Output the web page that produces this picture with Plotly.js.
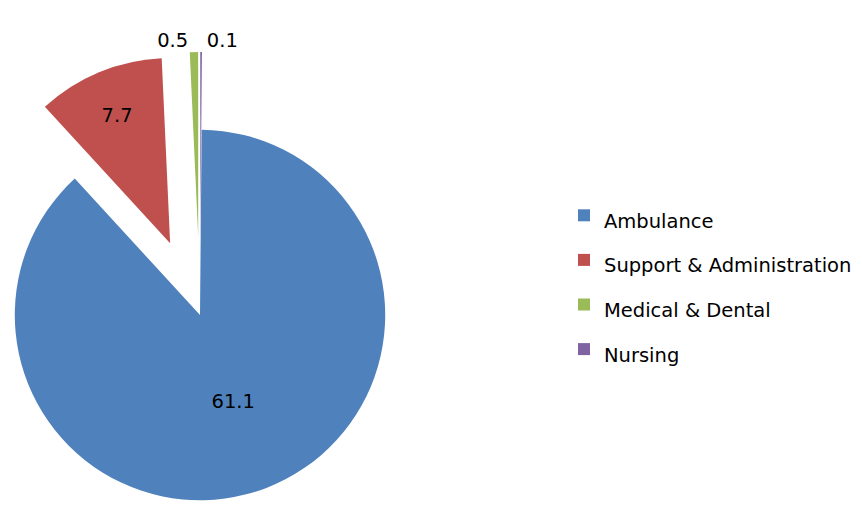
<!DOCTYPE html>
<html>
<head>
<meta charset="utf-8">
<script src="https://cdn.plot.ly/plotly-3.0.1.min.js"></script>
<style>
html, body { margin: 0; padding: 0; width: 862px; height: 512px; overflow: hidden; background: #fff; }
#chart { position: absolute; left: -63px; top: 0px; width: 925px; height: 630px; }
</style>
</head>
<body>
<div id="chart"></div>
<script>
// Data
const categories = ["Ambulance", "Support & Administration", "Medical & Dental", "Nursing"];
const values = [61.1, 7.7, 0.5, 0.1];
const sliceColors = ["#4F81BD", "#C0504D", "#9BBB59", "#8064A2"];
const pulls = [0, 0.42, 0.42, 0.42];
const textPositions = ["inside", "inside", "outside", "outside"];

const FONT = "DejaVu Sans, sans-serif";
const legendLabels = categories.map(c => '<span style="font-size:19.5px">' + c + '</span>');

const trace = {
  type: "pie",
  labels: legendLabels,
  values: values,
  sort: false,
  direction: "clockwise",
  rotation: 0.5,
  pull: pulls,
  marker: { colors: sliceColors, line: { width: 0 } },
  textinfo: "value",
  textposition: textPositions,
  insidetextorientation: "horizontal",
  textfont: { family: FONT, size: 19.5, color: "#000" },
  insidetextfont: { family: FONT, size: 19.5, color: "#000" },
  outsidetextfont: { family: FONT, size: 19.5, color: "#000" },
  domain: { x: [0, 526 / 925], y: [52 / 630, 578 / 630] },
  hoverinfo: "label+value"
};

const layout = {
  width: 925,
  height: 630,
  margin: { l: 0, r: 0, t: 0, b: 0 },
  paper_bgcolor: "#fff",
  showlegend: true,
  legend: {
    x: 627 / 925,
    y: 1 - 188 / 630,
    xanchor: "left",
    yanchor: "top",
    font: { family: FONT, size: 32, color: "#000" },
    bgcolor: "rgba(0,0,0,0)"
  }
};

Plotly.newPlot("chart", [trace], layout, { staticPlot: true });
</script>
</body>
</html>
